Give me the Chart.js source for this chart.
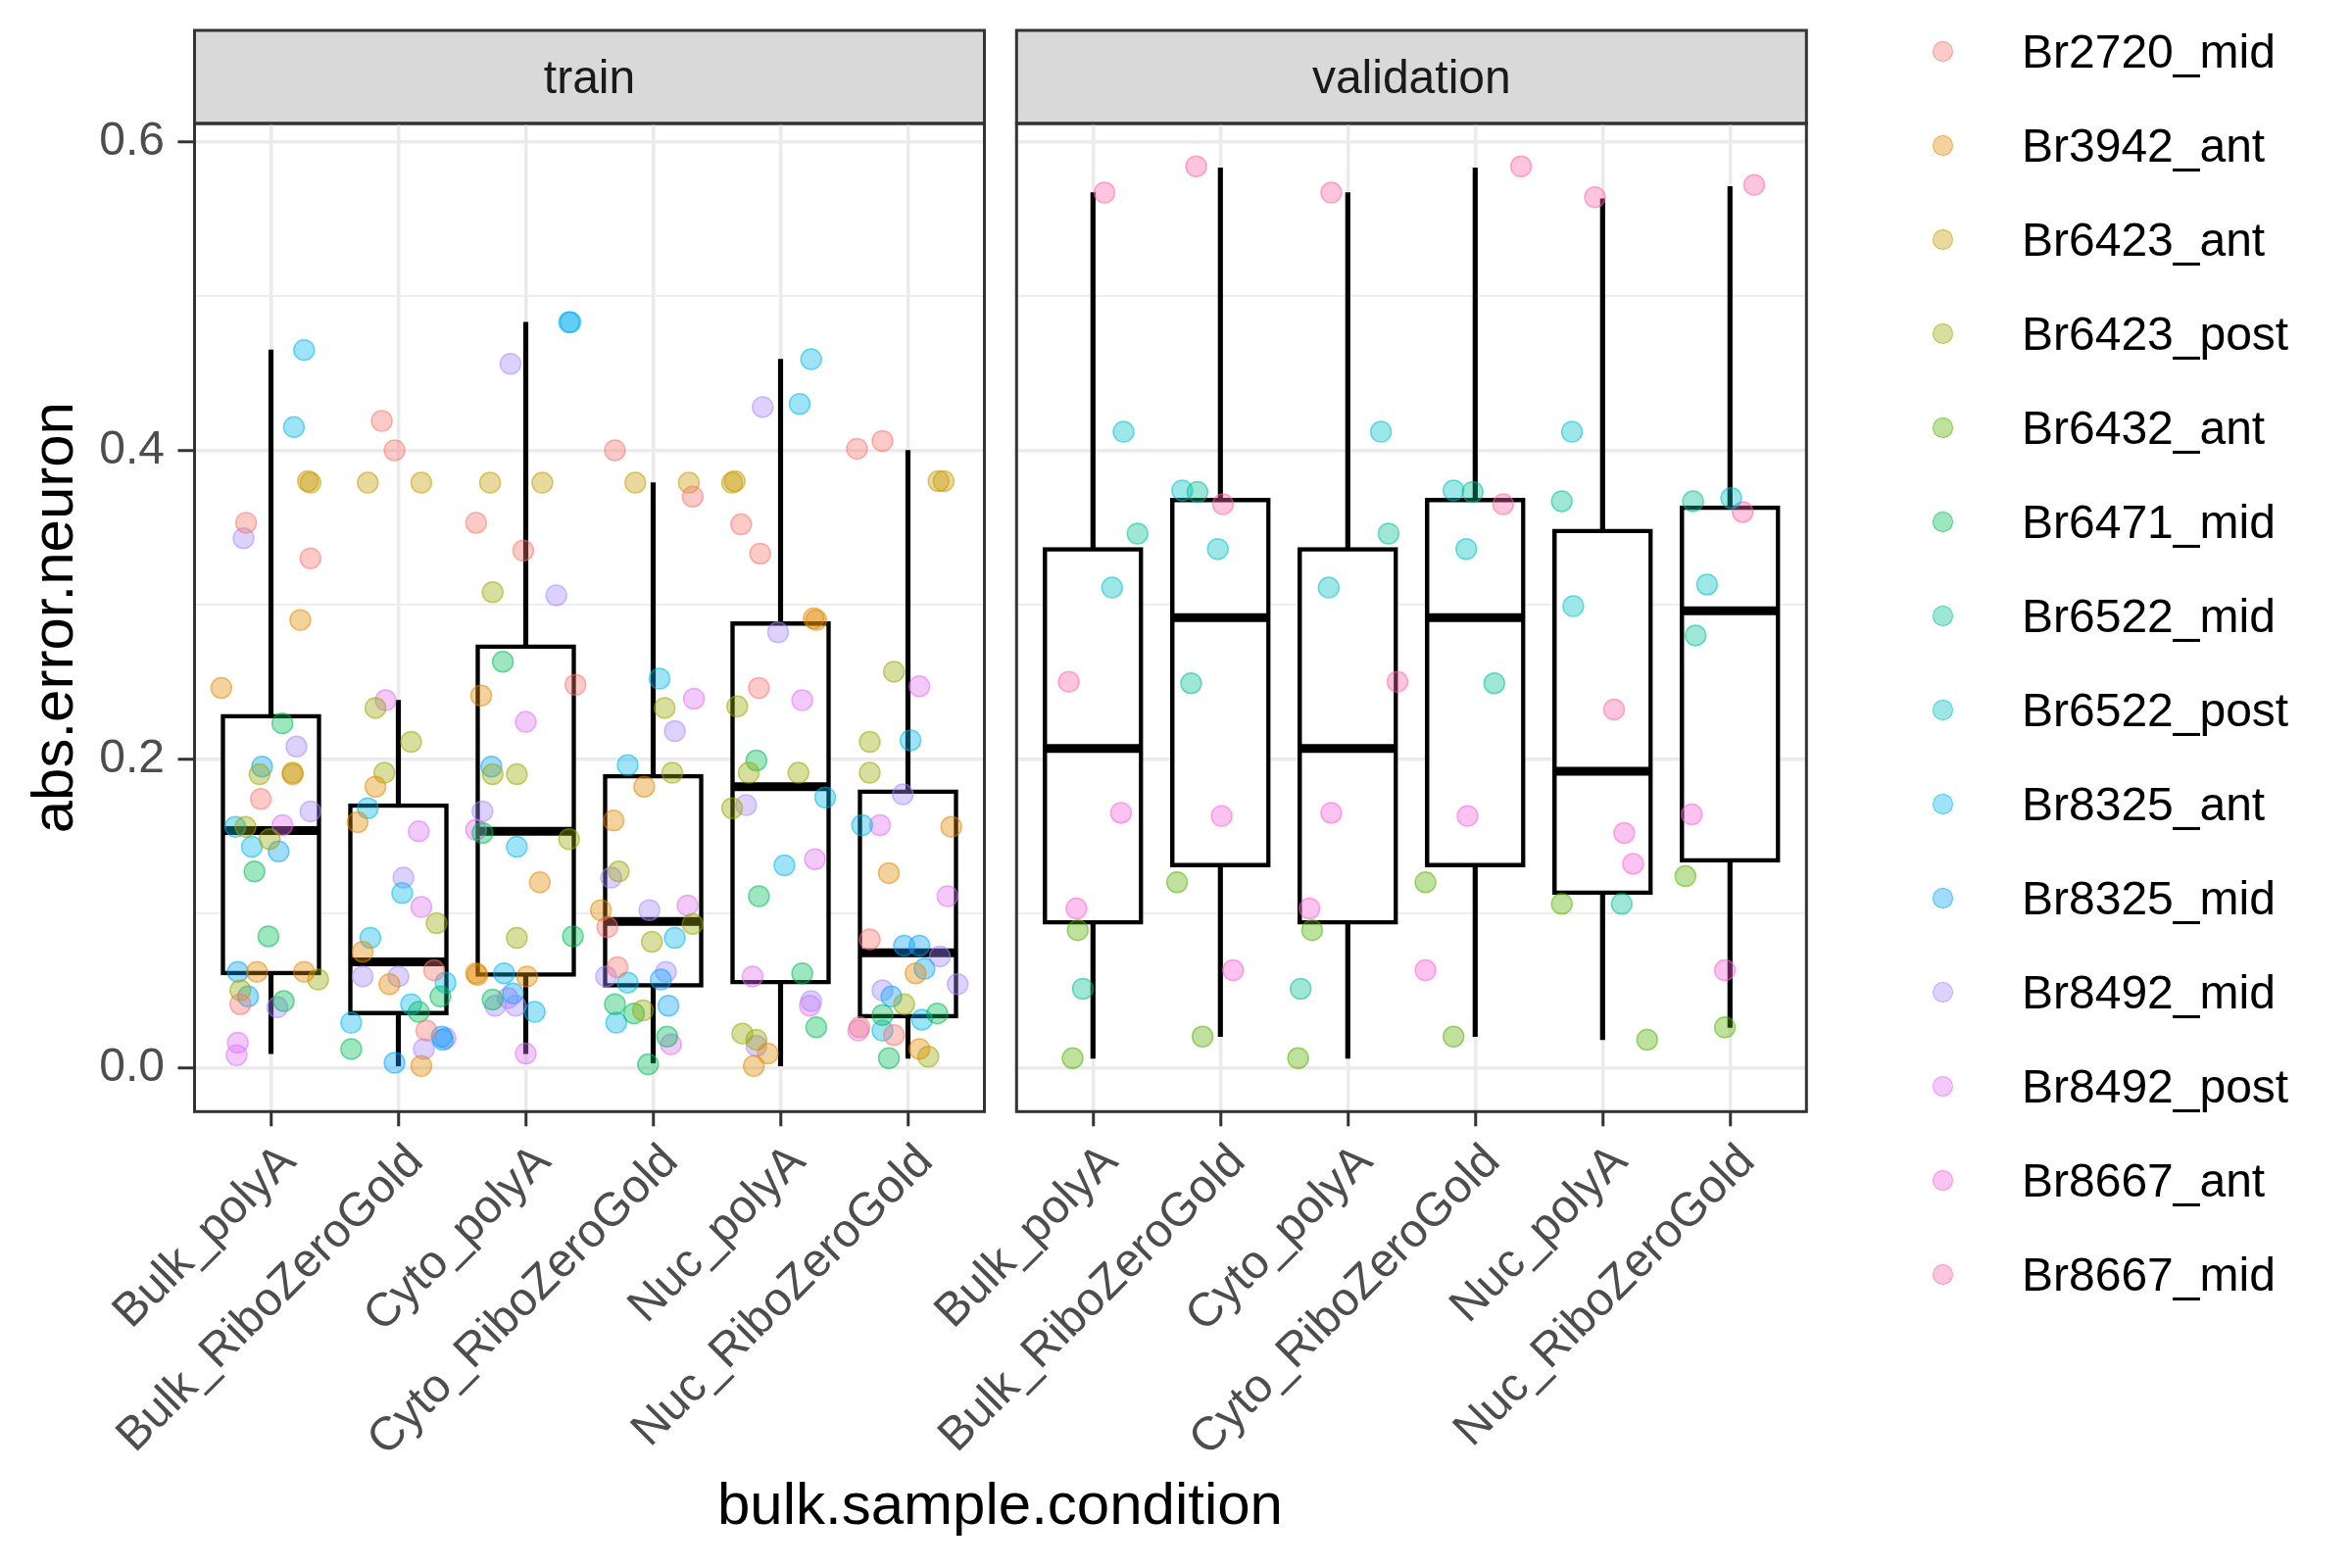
<!DOCTYPE html>
<html>
<head>
<meta charset="utf-8">
<script src="https://cdn.jsdelivr.net/npm/chart.js@4.4.1/dist/chart.umd.min.js"></script>
<style>
  html, body { margin: 0; padding: 0; background: #fff; }
  #wrap { position: relative; width: 2400px; height: 1600px; font-family: "Liberation Sans", Arial, sans-serif; }
  #wrap canvas { position: absolute; left: 0; top: 0; }
  #xtitle { position: absolute; left: 198px; width: 1645px; top: 1499px; text-align: center; font-size: 60px; line-height: 72px; color: #000; }
  #legend { position: absolute; left: 1960px; top: 0; width: 440px; height: 1400px; }
  .key { position: absolute; left: 0; height: 96px; width: 440px; }
  .dot { position: absolute; left: 12px; top: 37px; width: 19px; height: 19px; border-radius: 50%; border: 1.5px solid; }
  .lab { position: absolute; left: 103px; top: 0; line-height: 96px; font-size: 48px; color: #000; white-space: nowrap; }
</style>
</head>
<body>
<div id="wrap">
  <canvas id="train" width="2400" height="1600"></canvas>
  <canvas id="validation" width="2400" height="1600"></canvas>
  <div id="xtitle">bulk.sample.condition</div>
  <div id="legend"></div>
</div>
<script>
// categories, legend levels, ticks
const conditions = ["Bulk_polyA", "Bulk_RiboZeroGold", "Cyto_polyA", "Cyto_RiboZeroGold", "Nuc_polyA", "Nuc_RiboZeroGold"];
const donors = ["Br2720_mid", "Br3942_ant", "Br6423_ant", "Br6423_post", "Br6432_ant", "Br6471_mid", "Br6522_mid",
  "Br6522_post", "Br8325_ant", "Br8325_mid", "Br8492_mid", "Br8492_post", "Br8667_ant", "Br8667_mid"];
const donorColors = ["#F8766D", "#E38900", "#C49A00", "#99A800", "#53B400", "#00BC56", "#00C094",
  "#00BFC4", "#00B6EB", "#06A4FF", "#A58AFF", "#DF70F8", "#FB61D7", "#FF66A8"];
const yTicks = [0, 0.2, 0.4, 0.6];
const yGrid = [0, 0.1, 0.2, 0.3, 0.4, 0.5, 0.6];

// box statistics
const trainLower = [0.009, 0.001, 0.009, 0.003, 0.001, 0.006];
const trainQ1 = [0.060, 0.034, 0.059, 0.052, 0.054, 0.032];
const trainMedian = [0.1535, 0.0684, 0.153, 0.0946, 0.182, 0.0743];
const trainQ3 = [0.229, 0.171, 0.274, 0.190, 0.289, 0.180];
const trainUpper = [0.465, 0.238, 0.483, 0.379, 0.459, 0.400];

const validLower = [0.006, 0.020, 0.006, 0.020, 0.018, 0.026];
const validQ1 = [0.0928, 0.130, 0.0928, 0.130, 0.112, 0.133];
const validMedian = [0.2067, 0.2916, 0.2067, 0.2916, 0.192, 0.296];
const validQ3 = [0.337, 0.369, 0.337, 0.369, 0.349, 0.364];
const validUpper = [0.567, 0.583, 0.567, 0.583, 0.563, 0.571];

// jittered points: [jitter (category units), abs.error.neuron, donor index]
const trainBulkPolyA = [[0.26, 0.465, 8], [0.18, 0.415, 8], [0.31, 0.379, 2], [0.29, 0.380, 2], [-0.195, 0.353, 0],
  [-0.215, 0.343, 10], [0.31, 0.330, 0], [0.23, 0.290, 1], [-0.39, 0.246, 1], [0.09, 0.223, 5], [0.20, 0.208, 10],
  [-0.07, 0.195, 9], [-0.09, 0.190, 3], [0.17, 0.191, 3], [0.17, 0.190, 1], [-0.08, 0.174, 0], [0.31, 0.166, 10],
  [-0.28, 0.156, 8], [-0.20, 0.156, 3], [0.09, 0.157, 11], [-0.01, 0.148, 3], [-0.15, 0.143, 8], [0.06, 0.140, 9],
  [-0.13, 0.127, 5], [-0.02, 0.085, 5], [-0.26, 0.062, 9], [-0.11, 0.062, 1], [0.26, 0.062, 1], [0.37, 0.057, 3],
  [-0.24, 0.050, 3], [-0.18, 0.046, 9], [-0.24, 0.041, 0], [0.10, 0.043, 5], [0.05, 0.039, 10], [-0.26, 0.016, 11],
  [-0.27, 0.008, 11]];
const trainBulkRibo = [[-0.13, 0.419, 0], [-0.03, 0.400, 0], [-0.24, 0.379, 2], [0.18, 0.379, 2], [-0.10, 0.238, 11],
  [-0.18, 0.233, 3], [0.10, 0.211, 3], [-0.11, 0.191, 3], [-0.18, 0.182, 1], [-0.24, 0.168, 8], [-0.32, 0.159, 1],
  [0.16, 0.153, 11], [0.04, 0.123, 10], [0.03, 0.113, 8], [0.18, 0.104, 11], [0.30, 0.0935, 3], [-0.22, 0.084, 8],
  [-0.28, 0.075, 1], [-0.28, 0.059, 10], [0.00, 0.059, 10], [-0.07, 0.054, 1], [0.28, 0.063, 0], [0.37, 0.055, 8],
  [0.33, 0.046, 5], [0.10, 0.041, 8], [0.16, 0.036, 5], [-0.37, 0.029, 8], [0.22, 0.024, 0], [0.37, 0.019, 11],
  [0.35, 0.018, 9], [0.34, 0.020, 9], [0.20, 0.012, 10], [-0.37, 0.012, 5], [-0.03, 0.003, 9], [0.18, 0.001, 1]];
const trainCytoPolyA = [[-0.12, 0.456, 10], [0.34, 0.483, 8], [0.35, 0.483, 9], [-0.28, 0.379, 2], [0.13, 0.379, 2],
  [-0.39, 0.353, 0], [-0.02, 0.335, 0], [-0.26, 0.308, 3], [0.24, 0.306, 10], [-0.18, 0.263, 5], [0.39, 0.248, 0],
  [-0.35, 0.241, 1], [0.00, 0.224, 11], [-0.27, 0.195, 9], [-0.26, 0.190, 3], [-0.07, 0.190, 3], [-0.34, 0.166, 10],
  [-0.39, 0.154, 11], [-0.34, 0.152, 5], [0.34, 0.148, 3], [-0.07, 0.143, 8], [0.11, 0.120, 1], [-0.07, 0.084, 3],
  [0.37, 0.085, 5], [-0.39, 0.061, 1], [-0.38, 0.060, 1], [-0.17, 0.061, 8], [0.01, 0.059, 1], [-0.26, 0.044, 5],
  [-0.14, 0.045, 11], [-0.24, 0.040, 10], [-0.10, 0.048, 9], [-0.08, 0.040, 10], [0.07, 0.036, 8], [0.00, 0.009, 11]];
const trainCytoRibo = [[-0.30, 0.400, 0], [-0.14, 0.379, 2], [0.28, 0.379, 2], [0.31, 0.370, 0], [0.05, 0.252, 8],
  [0.09, 0.233, 3], [0.32, 0.239, 11], [0.17, 0.218, 10], [-0.20, 0.196, 8], [0.15, 0.191, 3], [-0.07, 0.182, 1],
  [-0.31, 0.160, 1], [-0.27, 0.127, 3], [-0.33, 0.123, 10], [-0.41, 0.102, 1], [-0.03, 0.102, 10], [0.27, 0.105, 11],
  [-0.36, 0.091, 0], [0.31, 0.093, 3], [-0.01, 0.0815, 3], [0.17, 0.084, 8], [-0.28, 0.065, 0], [-0.37, 0.059, 10],
  [0.10, 0.062, 10], [-0.20, 0.055, 8], [0.06, 0.057, 9], [-0.30, 0.041, 5], [0.12, 0.040, 9], [-0.15, 0.035, 5],
  [-0.08, 0.037, 3], [-0.29, 0.029, 8], [0.11, 0.020, 5], [0.14, 0.015, 11], [-0.04, 0.002, 5]];
const trainNucPolyA = [[0.24, 0.459, 8], [0.15, 0.430, 8], [-0.14, 0.428, 10], [-0.38, 0.379, 2], [-0.36, 0.380, 2],
  [-0.31, 0.352, 0], [-0.16, 0.333, 0], [0.26, 0.291, 1], [0.28, 0.290, 1], [-0.02, 0.282, 10], [-0.17, 0.246, 0],
  [0.17, 0.238, 11], [-0.34, 0.234, 3], [-0.19, 0.199, 5], [-0.25, 0.191, 3], [0.14, 0.191, 3], [-0.38, 0.168, 3],
  [-0.27, 0.170, 10], [0.35, 0.175, 8], [0.03, 0.131, 8], [0.27, 0.135, 11], [-0.17, 0.111, 5], [-0.22, 0.059, 11],
  [0.17, 0.061, 5], [0.24, 0.043, 10], [0.23, 0.040, 11], [0.28, 0.026, 5], [-0.30, 0.022, 3], [-0.19, 0.018, 3],
  [-0.19, 0.014, 10], [-0.10, 0.009, 1], [-0.21, 0.001, 1]];
const trainNucRibo = [[-0.40, 0.401, 0], [-0.20, 0.406, 0], [0.24, 0.380, 2], [0.28, 0.380, 2], [-0.11, 0.2565, 3],
  [0.09, 0.247, 11], [-0.30, 0.211, 3], [0.02, 0.212, 8], [-0.30, 0.191, 3], [-0.04, 0.177, 10], [-0.36, 0.157, 8],
  [-0.22, 0.157, 11], [0.34, 0.156, 1], [-0.15, 0.126, 1], [0.31, 0.111, 11], [-0.30, 0.083, 0], [-0.03, 0.079, 9],
  [0.09, 0.079, 9], [0.25, 0.072, 10], [0.06, 0.061, 1], [0.13, 0.064, 9], [0.39, 0.054, 10], [-0.20, 0.050, 10],
  [-0.13, 0.046, 9], [-0.03, 0.041, 3], [-0.20, 0.034, 5], [0.11, 0.031, 8], [0.23, 0.035, 5], [-0.38, 0.026, 0],
  [-0.39, 0.024, 11], [-0.20, 0.024, 8], [-0.11, 0.021, 0], [0.09, 0.012, 1], [0.16, 0.007, 3], [-0.15, 0.006, 5]];

const validBulkPolyA = [[0.09, 0.567, 13], [0.24, 0.412, 7], [0.35, 0.346, 6], [0.15, 0.311, 7], [-0.19, 0.250, 13],
  [0.22, 0.165, 12], [-0.13, 0.103, 12], [-0.12, 0.089, 4], [-0.08, 0.051, 6], [-0.16, 0.006, 4]];
const validBulkRibo = [[-0.19, 0.584, 13], [-0.30, 0.374, 7], [-0.18, 0.373, 6], [0.02, 0.365, 13], [-0.02, 0.336, 7],
  [-0.23, 0.249, 6], [0.01, 0.163, 12], [-0.34, 0.120, 4], [0.10, 0.063, 12], [-0.14, 0.020, 4]];
const validCytoPolyA = [[-0.13, 0.567, 13], [0.26, 0.412, 7], [0.32, 0.346, 6], [-0.15, 0.311, 7], [0.39, 0.250, 13],
  [-0.13, 0.165, 12], [-0.30, 0.103, 12], [-0.28, 0.089, 4], [-0.37, 0.051, 6], [-0.39, 0.006, 4]];
const validCytoRibo = [[0.36, 0.584, 13], [-0.17, 0.374, 7], [-0.02, 0.373, 6], [0.22, 0.365, 13], [-0.07, 0.336, 7],
  [0.15, 0.249, 6], [-0.06, 0.163, 12], [-0.39, 0.120, 4], [-0.39, 0.063, 12], [-0.17, 0.020, 4]];
const validNucPolyA = [[-0.06, 0.564, 13], [-0.24, 0.412, 7], [-0.32, 0.367, 6], [-0.23, 0.299, 7], [0.09, 0.232, 13],
  [0.17, 0.152, 12], [0.24, 0.132, 12], [-0.32, 0.106, 4], [0.15, 0.106, 6], [0.35, 0.018, 4]];
const validNucRibo = [[0.19, 0.572, 13], [-0.29, 0.367, 6], [0.01, 0.369, 7], [0.10, 0.360, 13], [-0.18, 0.313, 7],
  [-0.27, 0.280, 6], [-0.30, 0.164, 12], [-0.35, 0.124, 4], [-0.04, 0.063, 12], [-0.04, 0.026, 4]];

const FONT = "'Liberation Sans', Arial, sans-serif";
const BOX_HALF = 0.375; // half box width in category units

function rgba(hex, a) {
  const n = parseInt(hex.slice(1), 16);
  return `rgba(${n >> 16},${(n >> 8) & 255},${n & 255},${a})`;
}

function buildDatasets(groups, lower, q1, median, q3, upper) {
  const xs = conditions.map((c, i) => i + 1);
  const sets = [
    {
      type: "bar", label: "whisker", order: 3, grouped: false,
      data: xs.map((x, i) => ({ x, y: [lower[i], upper[i]] })),
      backgroundColor: "#000", barThickness: 4.5,
    },
    {
      type: "bar", label: "box", order: 2, grouped: false,
      data: xs.map((x, i) => ({ x, y: [q1[i], q3[i]] })),
      backgroundColor: "#fff", borderColor: "#000", borderWidth: 4.5, borderSkipped: false, barThickness: 102,
    },
    {
      type: "line", label: "median", order: 1,
      data: xs.flatMap((x, i) => [{ x: x - BOX_HALF, y: median[i] }, { x: x + BOX_HALF, y: median[i] }, { x: x + 0.5, y: null }]),
      borderColor: "#000", borderWidth: 9, borderCapStyle: "butt", pointRadius: 0, spanGaps: false,
    },
  ];
  donors.forEach((name, d) => {
    const pts = [];
    groups.forEach((g, i) => g.forEach(([j, v, who]) => { if (who === d) pts.push({ x: i + 1 + j, y: v }); }));
    sets.push({
      type: "scatter", label: name, order: 0, data: pts,
      backgroundColor: rgba(donorColors[d], 0.38), borderColor: rgba(donorColors[d], 0.55),
      borderWidth: 1.5, pointRadius: 10.5, pointHoverRadius: 10.5,
    });
  });
  return sets;
}

// strip on top of each panel + panel border
const panelPlugin = {
  id: "panel",
  beforeDraw(chart) {
    const { ctx, chartArea } = chart;
    const tb = chart.titleBlock;
    ctx.save();
    ctx.fillStyle = "#D9D9D9";
    ctx.fillRect(chartArea.left, tb.top, chartArea.right - chartArea.left, chartArea.top - tb.top);
    ctx.strokeStyle = "#333333";
    ctx.lineWidth = 3;
    ctx.strokeRect(chartArea.left, tb.top, chartArea.right - chartArea.left, chartArea.top - tb.top);
    ctx.restore();
  },
  afterDraw(chart) {
    const { ctx, chartArea } = chart;
    ctx.save();
    ctx.strokeStyle = "#333333";
    ctx.lineWidth = 3;
    ctx.strokeRect(chartArea.left, chartArea.top, chartArea.right - chartArea.left, chartArea.bottom - chartArea.top);
    ctx.restore();
  },
};

function makeChart(id, facet, datasets, first, pad) {
  return new Chart(document.getElementById(id), {
    type: "bar",
    data: { datasets },
    plugins: [panelPlugin],
    options: {
      responsive: false,
      maintainAspectRatio: false,
      devicePixelRatio: 1,
      animation: false,
      events: [],
      layout: { padding: pad },
      plugins: {
        legend: { display: false },
        tooltip: { enabled: false },
        title: {
          display: true, text: facet, fullSize: false, color: "#1A1A1A",
          font: { family: FONT, size: 48, weight: "normal" }, padding: { top: 22, bottom: 15.4 },
        },
      },
      scales: {
        x: {
          type: "linear", min: 0.4, max: 6.6, offset: false,
          afterBuildTicks: (s) => { s.ticks = conditions.map((c, i) => ({ value: i + 1 })); },
          afterFit: (s) => { s.height = 465.7; s.paddingLeft = 0; s.paddingRight = 0; },
          ticks: {
            autoSkip: false, minRotation: 45, maxRotation: 45, padding: 8, labelOffset: 18, color: "#4D4D4D",
            font: { family: FONT, size: 48 },
            callback: (v) => conditions[Math.round(v) - 1],
          },
          grid: { color: "#EBEBEB", lineWidth: 3.5, offset: false, drawTicks: true, tickLength: 15, tickColor: "#333333", tickWidth: 3 },
          border: { display: false },
        },
        y: {
          type: "linear", min: -0.0286, max: 0.6118,
          afterBuildTicks: (s) => { s.ticks = yGrid.map((v) => ({ value: v })); },
          afterFit: (s) => { s.width = first ? 198.5 : 0; },
          ticks: {
            display: first, padding: 13.5, color: "#4D4D4D", font: { family: FONT, size: 48 },
            callback: (v) => (yTicks.includes(v) ? v.toFixed(1) : ""),
          },
          grid: {
            color: "#EBEBEB",
            lineWidth: (c) => (c.tick && yTicks.includes(c.tick.value) ? 3.5 : 1.8),
            drawTicks: first, tickLength: 17, tickWidth: 3,
            tickColor: (c) => (c.tick && yTicks.includes(c.tick.value) ? "#333333" : "rgba(0,0,0,0)"),
          },
          border: { display: false },
          title: {
            display: first, text: "abs.error.neuron", color: "#000",
            font: { family: FONT, size: 60 }, padding: { top: 21, bottom: 0 },
          },
        },
      },
    },
  });
}

makeChart("train", "train",
  buildDatasets([trainBulkPolyA, trainBulkRibo, trainCytoPolyA, trainCytoRibo, trainNucPolyA, trainNucRibo],
    trainLower, trainQ1, trainMedian, trainQ3, trainUpper),
  true, { top: 31, left: 0, right: 2400 - 1004.5, bottom: 0 });

makeChart("validation", "validation",
  buildDatasets([validBulkPolyA, validBulkRibo, validCytoPolyA, validCytoRibo, validNucPolyA, validNucRibo],
    validLower, validQ1, validMedian, validQ3, validUpper),
  false, { top: 31, left: 1037.3, right: 2400 - 1843.3, bottom: 0 });

// legend
const legend = document.getElementById("legend");
donors.forEach((name, d) => {
  const key = document.createElement("div");
  key.className = "key";
  key.style.top = (5 + d * 96) + "px";
  const dot = document.createElement("div");
  dot.className = "dot";
  dot.style.background = rgba(donorColors[d], 0.38);
  dot.style.borderColor = rgba(donorColors[d], 0.55);
  const lab = document.createElement("div");
  lab.className = "lab";
  lab.textContent = name;
  key.appendChild(dot);
  key.appendChild(lab);
  legend.appendChild(key);
});
</script>
</body>
</html>
